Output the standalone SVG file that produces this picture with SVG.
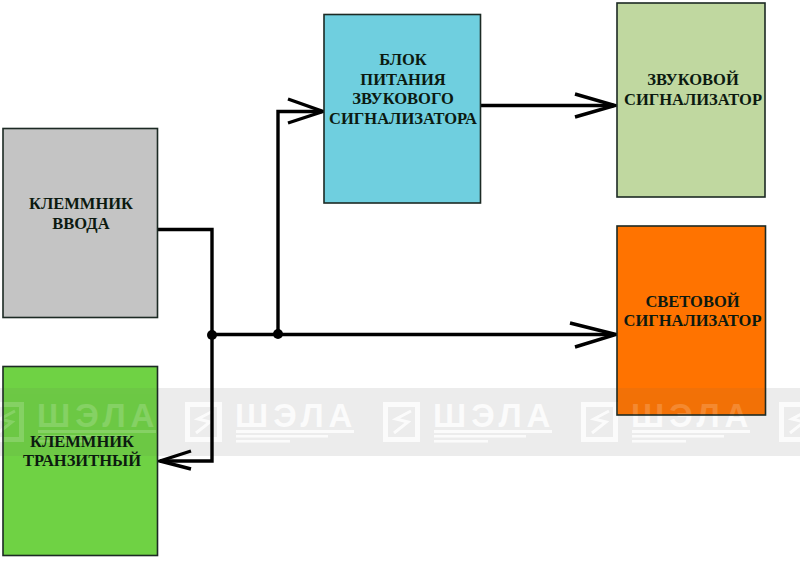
<svg xmlns="http://www.w3.org/2000/svg" width="800" height="569" viewBox="0 0 800 569">
<style>
.box{stroke:#1c2a24;stroke-width:1.6}
.t{font-family:"Liberation Serif",serif;font-weight:700;font-size:16.500px;fill:#0c1a10;text-anchor:middle}
.w{stroke:#000;stroke-width:3.400;fill:none}
.wm{font-family:"Liberation Sans",sans-serif;font-weight:700;font-size:33px;letter-spacing:5px;fill:#fff}
.wl{fill:#fff}
.lg{fill:none;stroke:#fff;stroke-width:5}
.strong{opacity:.8}
.faint{opacity:.17}
</style>
<defs>
<g id="mark">
<path class="lg" d="M187.500 404.500h32v35h-32z"/>
<path class="lg" style="stroke-width:3" d="M213 411l-15 8 12 3-14 11"/>
<text class="wm" x="235" y="427">ШЭЛА</text>
<rect class="wl" x="236" y="430" width="118" height="3"/>
<rect class="wl" x="236" y="435" width="92" height="2.500"/>
<rect class="wl" x="236" y="440" width="54" height="2.500"/>
</g>
<g id="marks">
<use href="#mark" x="-198"/>
<use href="#mark"/>
<use href="#mark" x="198"/>
<use href="#mark" x="396"/>
<use href="#mark" x="594"/>
</g>
</defs>
<rect width="800" height="569" fill="#fff"/>
<g id="watermark-back">
<rect x="0" y="388" width="800" height="68" fill="#ececec"/>
<use href="#marks" class="strong"/>
</g>
<g id="connectors">
<path class="w" d="M158 229.500H212V461H160"/>
<path class="w" d="M212 334.500H612"/>
<path class="w" d="M278 334.500V111.500H322"/>
<path class="w" d="M481 105.500H614"/>
<path class="w" d="M288 99L323 111.500 288 123"/>
<path class="w" d="M575 94L615 105.500 575 117"/>
<path class="w" d="M570 323L616 334.500 575 347"/>
<path class="w" d="M191 451L160 461 191 469"/>
<circle cx="212" cy="335" r="5" fill="#000"/>
<circle cx="278" cy="334" r="5" fill="#000"/>
</g>
<g id="n1"><rect class="box" x="3" y="128.500" width="154.500" height="189" fill="#c4c4c4"/>
<text class="t" x="81" y="209">КЛЕММНИК</text><text class="t" x="81" y="229">ВВОДА</text></g>
<g id="n2"><rect class="box" x="3" y="366.500" width="154.500" height="189" fill="#6fd244"/>
<rect x="3.800" y="388" width="153" height="68" fill="#555" fill-opacity=".08"/>
<use href="#marks" class="faint" clip-path="url(#c2)"/>
<text class="t" x="82" y="447">КЛЕММНИК</text><text class="t" x="82" y="466">ТРАНЗИТНЫЙ</text></g>
<g id="n3"><rect class="box" x="324" y="14.500" width="156.500" height="188.500" fill="#6fcfdf"/>
<text class="t" x="403" y="65">БЛОК</text><text class="t" x="403" y="85">ПИТАНИЯ</text><text class="t" x="403" y="104">ЗВУКОВОГО</text><text class="t" x="403" y="124">СИГНАЛИЗАТОРА</text></g>
<g id="n4"><rect class="box" x="617" y="3" width="148" height="194" fill="#c0d8a0"/>
<text class="t" x="693" y="85">ЗВУКОВОЙ</text><text class="t" x="693" y="105">СИГНАЛИЗАТОР</text></g>
<g id="n5"><rect class="box" x="617" y="226" width="148.500" height="189" fill="#ff7300"/>
<rect x="617.800" y="388" width="147" height="26.200" fill="#555" fill-opacity=".08"/>
<use href="#marks" class="faint" clip-path="url(#c5)"/>
<text class="t" x="692.500" y="307">СВЕТОВОЙ</text><text class="t" x="692.500" y="326">СИГНАЛИЗАТОР</text></g>
<clipPath id="c2"><rect x="3.800" y="388" width="153" height="68"/></clipPath>
<clipPath id="c5"><rect x="617.800" y="388" width="147" height="26.200"/></clipPath>
</svg>
